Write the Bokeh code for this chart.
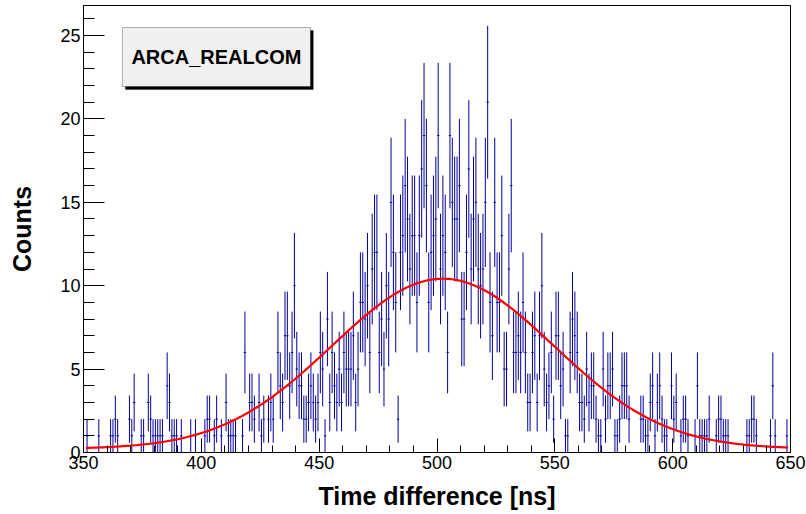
import numpy as np
from bokeh.plotting import figure
from bokeh.models import ColumnDataSource, Range1d, FixedTicker, Label, BoxAnnotation
from bokeh.embed import file_html
from bokeh.resources import INLINE

# ---- data ----
bin_start = 350          # ns, first bin low edge
bin_width = 1            # ns
counts = [
    0, 1, 0, 0, 0, 0, 1, 0, 0, 0,      # 350
    0, 1, 1, 2, 1, 0, 0, 0, 0, 2,      # 360
    1, 3, 0, 0, 1, 1, 0, 3, 2, 1,      # 370
    1, 1, 1, 1, 0, 4, 3, 1, 1, 1,      # 380
    0, 1, 0, 0, 0, 1, 0, 1, 0, 0,      # 390
    0, 1, 2, 2, 0, 1, 2, 0, 1, 0,      # 400
    3, 1, 1, 1, 1, 0, 0, 1, 6, 0,      # 410
    3, 3, 2, 0, 3, 1, 2, 0, 2, 3,      # 420
    2, 0, 6, 4, 3, 7, 7, 4, 6, 10,     # 430
    5, 4, 4, 2, 2, 3, 4, 3, 2, 3,      # 440
    6, 5, 1, 8, 3, 6, 4, 3, 5, 3,      # 450
    6, 5, 5, 5, 7, 3, 5, 9, 9, 8,      # 460
    10, 6, 11, 12, 12, 6, 8, 5, 10, 8,  # 470
    15, 12, 9, 2, 12, 13, 16, 14, 11, 13,  # 480
    13, 9, 13, 17, 19, 16, 9, 12, 13, 14,  # 490
    19, 11, 13, 12, 6, 19, 15, 14, 14, 16,  # 500
    8, 8, 12, 17, 11, 14, 15, 11, 10, 11,   # 510
    15, 21, 9, 7, 15, 9, 9, 13, 5, 5,       # 520
    11, 16, 6, 6, 7, 6, 9, 6, 3, 3,         # 530
    6, 7, 3, 7, 10, 5, 3, 4, 6, 2,          # 540
    7, 7, 4, 5, 1, 1, 6, 8, 7, 6,           # 550
    3, 3, 2, 5, 3, 4, 4, 2, 1, 1,           # 560
    5, 2, 4, 4, 5, 1, 1, 2, 4, 4,           # 570
    4, 2, 0, 0, 0, 0, 2, 2, 1, 1,           # 580
    3, 4, 1, 3, 4, 2, 1, 1, 0, 4,           # 590
    2, 3, 0, 1, 2, 2, 1, 0, 0, 1,           # 600
    4, 1, 1, 1, 1, 2, 0, 0, 1, 2,           # 610
    2, 1, 1, 1, 0, 0, 0, 0, 0, 0,           # 620
    0, 1, 1, 2, 2, 1, 0, 0, 0, 0,           # 630
    0, 1, 4, 1, 0, 0, 0, 0, 1, 0,           # 640
]

# Gaussian + constant fit parameters
fit_const = 10.2
fit_mean = 502.5
fit_sigma = 47.0
fit_bkg = 0.22
fit_range = (351.0, 649.0)

x_ticks = [350, 400, 450, 500, 550, 600, 650]
y_ticks = [0, 5, 10, 15, 20, 25]
title_text = "ARCA_REALCOM"
x_title = "Time difference [ns]"
y_title = "Counts"

# ---- build sources ----
c = np.array(counts, dtype=float)
lo_edge = bin_start + bin_width * np.arange(len(c))
centers = lo_edge + bin_width / 2.0
mask = c > 0
err = np.sqrt(c)
src = ColumnDataSource(dict(
    x=centers[mask], xl=lo_edge[mask], xr=lo_edge[mask] + bin_width,
    y=c[mask], lo=(c - err)[mask], hi=(c + err)[mask],
))

fx = np.linspace(fit_range[0], fit_range[1], 400)
fy = fit_bkg + fit_const * np.exp(-0.5 * ((fx - fit_mean) / fit_sigma) ** 2)

FONT = "Liberation Sans"

p = figure(width=806, height=514, output_backend="svg", toolbar_location=None,
           x_range=Range1d(350, 650), y_range=Range1d(0, 26.8),
           min_border_left=83, min_border_right=16, min_border_top=5, min_border_bottom=62)
p.background_fill_color = "white"
p.border_fill_color = "white"
p.outline_line_color = "black"
p.outline_line_width = 1
p.grid.visible = False

blue = "#000099"
p.segment(x0="x", y0="lo", x1="x", y1="hi", source=src, line_color=blue, line_width=1)
p.segment(x0="xl", y0="y", x1="xr", y1="y", source=src, line_color=blue, line_width=1)
p.line(fx, fy, line_color="#ff0000", line_width=2.2)

# axes
p.xaxis.ticker = FixedTicker(ticks=x_ticks, minor_ticks=list(range(350, 651, 10)))
p.yaxis.ticker = FixedTicker(ticks=y_ticks, minor_ticks=list(range(0, 27)))
for ax in (p.xaxis[0], p.yaxis[0]):
    ax.axis_line_color = "black"
    ax.major_tick_line_color = "black"
    ax.minor_tick_line_color = "black"
    ax.major_tick_out = 0
    ax.minor_tick_out = 0
    ax.major_label_text_font = FONT
    ax.major_label_text_font_size = "18px"
    ax.major_label_text_color = "black"
    ax.axis_label_text_font = FONT
    ax.axis_label_text_font_size = "25px"
    ax.axis_label_text_font_style = "bold"
    ax.axis_label_text_color = "black"
p.xaxis.major_tick_in = 14
p.xaxis.minor_tick_in = 7
p.yaxis.major_tick_in = 21
p.yaxis.minor_tick_in = 11
p.xaxis.major_label_standoff = 3
p.yaxis.major_label_standoff = 3
p.xaxis.axis_label = x_title
p.yaxis.axis_label = y_title
p.xaxis.axis_label_standoff = 10
p.yaxis.axis_label_standoff = 21

# title box with shadow (ROOT style)
p.add_layout(BoxAnnotation(left=367.8, right=447.5, top=25.3, bottom=21.76,
                           fill_color="black", fill_alpha=1.0, line_color="black"))
p.add_layout(BoxAnnotation(left=366.5, right=446.3, top=25.48, bottom=21.94,
                           fill_color="#f0f0f0", fill_alpha=1.0, line_color="black", line_width=1))
p.add_layout(Label(x=406.4, y=23.71, text=title_text, text_align="center", text_baseline="middle",
                   text_font=FONT, text_font_size="20px", text_font_style="bold", text_color="black"))

open("out.html", "w").write(file_html(p, INLINE))
